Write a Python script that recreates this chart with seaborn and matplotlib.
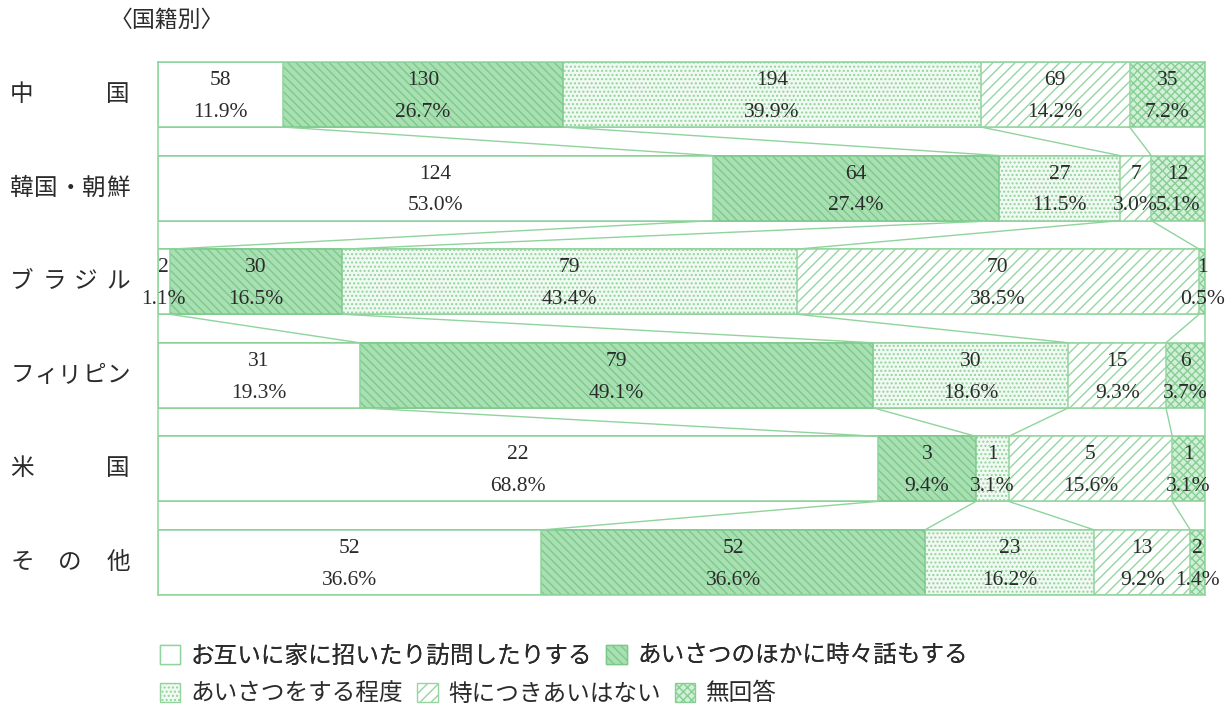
"""Neighbour relations by nationality: 100% stacked bars with connectors."""

import matplotlib.pyplot as plt
import matplotlib.transforms as mtransforms
import numpy as np
import pandas as pd
import seaborn as sns
from matplotlib.patches import Patch

countries = ['中国', '韓国・朝鮮', 'ブラジル', 'フィリピン', '米国', 'その他']
answers = ['お互いに家に招いたり訪問したりする', 'あいさつのほかに時々話もする',
           'あいさつをする程度', '特につきあいはない', '無回答']

counts = [
    [58, 130, 194, 69, 35],
    [124, 64, 27, 7, 12],
    [2, 30, 79, 70, 1],
    [31, 79, 30, 15, 6],
    [22, 3, 1, 5, 1],
    [52, 52, 23, 13, 2],
]
pct_labels = [
    ['11.9%', '26.7%', '39.9%', '14.2%', '7.2%'],
    ['53.0%', '27.4%', '11.5%', '3.0%', '5.1%'],
    ['1.1%', '16.5%', '43.4%', '38.5%', '0.5%'],
    ['19.3%', '49.1%', '18.6%', '9.3%', '3.7%'],
    ['68.8%', '9.4%', '3.1%', '15.6%', '3.1%'],
    ['36.6%', '36.6%', '16.2%', '9.2%', '1.4%'],
]

GREEN = '#8fd49c'
TEXT = '#2b2b2b'
faces = ['white', '#a9e0b3', '#f1faf2', 'white', '#d3efd8']
hatches = [None, '\\\\\\\\', '....', '///', 'xxxx']
hatch_edges = [GREEN, '#7cc98b', '#93d39e', '#95d6a1', '#86cf94']
BAR_H = 0.695


def _main():
    sns.set_style('white')
    plt.rcParams['font.family'] = ['Noto Sans CJK JP', 'DejaVu Sans']
    plt.rcParams['hatch.linewidth'] = 1.0

    fig = plt.figure(figsize=(12.31, 7.09), dpi=100)
    ax = fig.add_axes([158 / 1231, 1 - 595 / 709, (1205 - 158) / 1231, (595 - 62) / 709])

    arr = np.array(counts, dtype=float)
    share = arr / arr.sum(axis=1, keepdims=True) * 100
    cum = np.cumsum(share, axis=1)
    df = pd.DataFrame({'country': countries})
    for k in range(5):
        df[f'c{k}'] = cum[:, k]

    # widest cumulative first, each narrower layer painted on top
    for k in range(4, -1, -1):
        sns.barplot(data=df, x=f'c{k}', y='country', orient='h', ax=ax,
                    color=faces[k], saturation=1, width=BAR_H, errorbar=None,
                    edgecolor=hatch_edges[k], linewidth=1.1, hatch=hatches[k])

    # connector lines between neighbouring bars
    for i in range(len(countries) - 1):
        for k in range(4):
            ax.plot([cum[i, k], cum[i + 1, k]], [i + BAR_H / 2, i + 1 - BAR_H / 2],
                    color=GREEN, lw=1.0, zorder=3)

    # segment labels
    serif = 'Liberation Serif'
    for i in range(len(countries)):
        left = 0
        for k in range(5):
            mid = left + share[i, k] / 2
            left += share[i, k]
            ax.text(mid, i - 0.15, str(counts[i][k]), ha='center', va='center',
                    fontsize=15.5, family=serif, color=TEXT, zorder=4)
            ax.text(mid, i + 0.19, pct_labels[i][k], ha='center', va='center',
                    fontsize=15.5, family=serif, color=TEXT, zorder=4)

    ax.set_xlim(0, 100)
    ax.set_ylim(len(countries) - 1 + BAR_H / 2, -BAR_H / 2)
    ax.set_xticks([])
    ax.set_yticks([])
    ax.set_xlabel('')
    ax.set_ylabel('')
    for sp in ax.spines.values():
        sp.set_visible(True)
        sp.set_color(GREEN)
        sp.set_linewidth(1.1)

    # row labels, characters spread over a fixed width
    trans = mtransforms.blended_transform_factory(fig.transFigure, ax.transData)
    for i, name in enumerate(countries):
        xs = np.linspace(22, 118, len(name))
        for ch, x in zip(name, xs):
            ax.text(x / 1231, i, ch, transform=trans, ha='center', va='center',
                    fontsize=17, color=TEXT)

    fig.text(110 / 1231, 1 - 20 / 709, '〈国籍別〉', ha='left', va='center',
             fontsize=16.5, color=TEXT)

    handles = [Patch(facecolor=faces[k], edgecolor=hatch_edges[k], hatch=hatches[k],
                     linewidth=1.0, label=answers[k]) for k in range(5)]
    common = dict(frameon=False, fontsize=17, handlelength=0.85, handleheight=0.85,
                  handletextpad=0.45, columnspacing=0.6, borderpad=0, borderaxespad=0,
                  labelcolor=TEXT, loc='center left')
    leg1 = fig.legend(handles=handles[:2], ncol=2,
                      bbox_to_anchor=(160 / 1231, 1 - 656 / 709), **common)
    fig.add_artist(leg1)
    fig.legend(handles=handles[2:], ncol=3,
               bbox_to_anchor=(160 / 1231, 1 - 694 / 709), **common)

    fig.savefig('out.png', dpi=100)
    plt.close(fig)


if __name__ == '__main__':
    _main()
